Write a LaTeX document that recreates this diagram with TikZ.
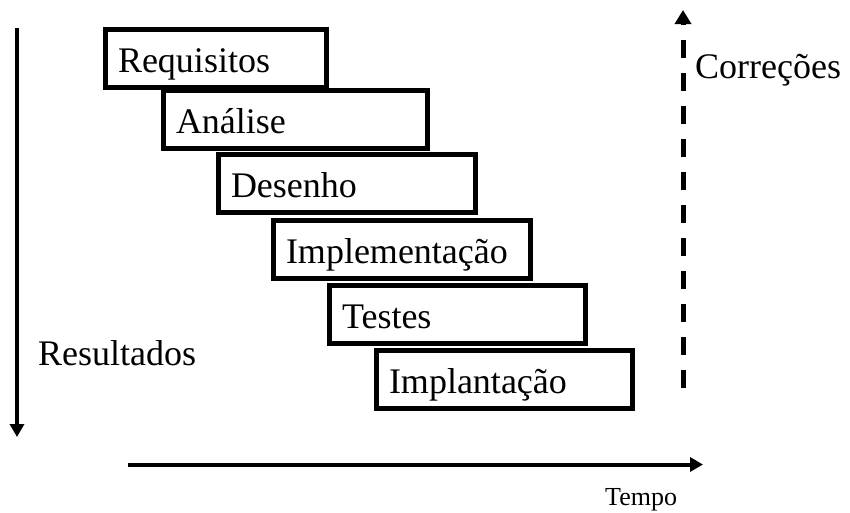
\documentclass[tikz,border=0pt]{standalone}
\usepackage{fontspec}
\setmainfont{Liberation Serif}
\usetikzlibrary{arrows.meta}
\tikzset{
  stagebox/.style={draw, line width=5pt, anchor=west, minimum height=58pt,
    inner xsep=13pt, inner ysep=0pt, align=left, text height=28pt, text depth=0pt,
    font=\fontsize{36}{40}\selectfont},
  biglabel/.style={anchor=base west, inner sep=0pt, font=\fontsize{36}{40}\selectfont},
  smalllabel/.style={anchor=base west, inner sep=0pt, font=\fontsize{26}{30}\selectfont},
  axis/.style={line width=4pt, -{Triangle[width=14pt,length=13pt]}},
  corr/.style={line width=5pt, dash pattern=on 18pt off 15pt, -{Triangle[width=16pt,length=14pt]}}
}
\begin{document}
\begin{tikzpicture}[x=1pt,y=-1pt]
\useasboundingbox (0,0) rectangle (850,512);
\node[stagebox, minimum width=221pt, text width=195pt] (req) at (102.5,58) {Requisitos};
\node[stagebox, minimum width=264pt, text width=238pt] (ana) at (160.5,119.5) {Análise};
\node[stagebox, minimum width=257pt, text width=231pt] (des) at (215.5,183) {Desenho};
\node[stagebox, minimum width=257pt, text width=231pt] (imp) at (270.5,249) {Implementação};
\node[stagebox, minimum width=256pt, text width=230pt] (tes) at (326.5,314) {Testes};
\node[stagebox, minimum width=256pt, text width=230pt] (ipl) at (373.5,379) {Implantação};
\node[biglabel] (res) at (38,365) {Resultados};
\node[biglabel] (cor) at (695,78) {Correções};
\node[smalllabel] (tem) at (605,505) {Tempo};
\coordinate (rtop) at (17,28);
\coordinate (rbot) at (17,437);
\coordinate (tl) at (128,464.5);
\coordinate (tr) at (703,464.5);
\coordinate (cbot) at (683,388);
\coordinate (ctop) at (683,10);
\draw[axis] (rtop) -- (rbot);
\draw[axis] (tl) -- (tr);
\draw[corr] (cbot) -- (ctop);
\end{tikzpicture}
\end{document}
